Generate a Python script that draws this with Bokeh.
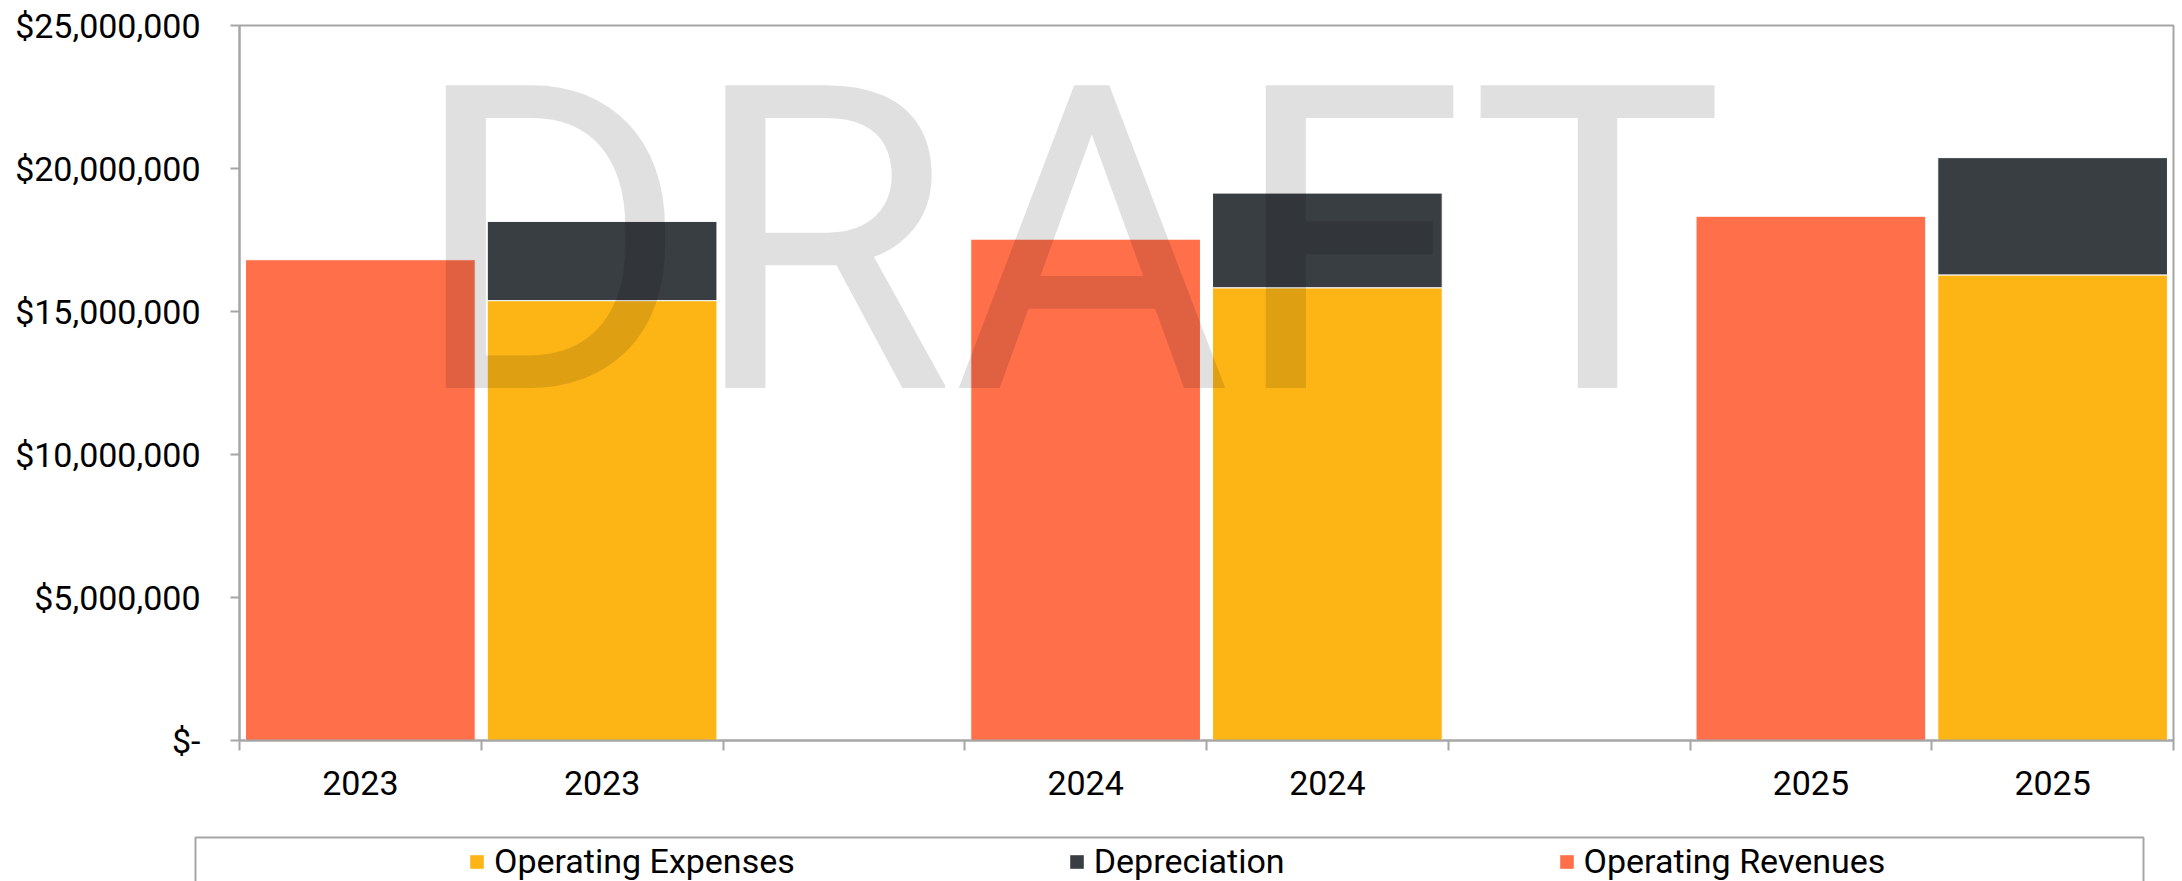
from bokeh.plotting import figure
from bokeh.models import Range1d, FixedTicker, Legend, LegendItem, Label, BoxAnnotation
from bokeh.layouts import column
from bokeh.embed import file_html
from bokeh.resources import INLINE

# ---------------- data ----------------
years = ["2023", "2024", "2025"]
operating_revenues = [16810000, 17530000, 18330000]
operating_expenses = [15380000, 15830000, 16280000]
depreciation = [2770000, 3310000, 4100000]
y_tick_values = [0, 5000000, 10000000, 15000000, 20000000, 25000000]
y_tick_labels = ["$-", "$5,000,000", "$10,000,000", "$15,000,000", "$20,000,000", "$25,000,000"]
series_names = ["Operating Expenses", "Depreciation", "Operating Revenues"]

# ---------------- layout of category slots ----------------
SLOTS = 3  # revenue bar, expense bar, blank gap
n_slots = len(years) * SLOTS - 1
rev_x = [i * SLOTS + 0.5 for i in range(len(years))]
exp_x = [i * SLOTS + 1.5 for i in range(len(years))]
dep_bottom = operating_expenses
dep_top = [e + d for e, d in zip(operating_expenses, depreciation)]

C_REV = "#FF6F4A"
C_EXP = "#FDB515"
C_DEP = "#393E42"
GRAY = "#A6A6A6"
FONT = "Roboto"

p = figure(width=2182, height=835, output_backend="svg", toolbar_location=None,
           x_range=Range1d(0, n_slots), y_range=Range1d(0, 25000000),
           min_border_left=239, min_border_right=9, min_border_top=25, min_border_bottom=95)
p.frame_align = False
p.background_fill_color = "white"
p.border_fill_color = "white"
p.outline_line_color = GRAY
p.outline_line_width = 2
p.xgrid.grid_line_color = None
p.ygrid.grid_line_color = None

BW = 0.95
r_rev = p.vbar(x=rev_x, top=operating_revenues, bottom=0, width=BW,
               fill_color=C_REV, line_color="white", line_width=1)
r_exp = p.vbar(x=exp_x, top=operating_expenses, bottom=0, width=BW,
               fill_color=C_EXP, line_color="white", line_width=1)
r_dep = p.vbar(x=exp_x, top=dep_top, bottom=dep_bottom, width=BW,
               fill_color=C_DEP, line_color="white", line_width=1)

# x axis: labels at bar centres, tick marks between categories
xa = p.xaxis[0]
label_pos = sorted(rev_x + exp_x)
xa.ticker = FixedTicker(ticks=label_pos, minor_ticks=list(range(0, n_slots + 1)))
overrides = {}
for i, y in enumerate(years):
    overrides[rev_x[i]] = y
    overrides[exp_x[i]] = y
xa.major_label_overrides = overrides
xa.major_tick_line_color = None
xa.minor_tick_line_color = GRAY
xa.minor_tick_line_width = 2
xa.minor_tick_out = 10
xa.minor_tick_in = 0
xa.axis_line_color = GRAY
xa.axis_line_width = 2
xa.major_label_text_font = FONT
xa.major_label_text_font_size = "34px"
xa.major_label_text_color = "black"
xa.major_label_standoff = 20

ya = p.yaxis[0]
ya.ticker = FixedTicker(ticks=y_tick_values, minor_ticks=[])
ya.major_label_overrides = dict(zip(y_tick_values, y_tick_labels))
ya.axis_line_color = GRAY
ya.axis_line_width = 2
ya.major_tick_line_color = GRAY
ya.major_tick_line_width = 2
ya.major_tick_out = 9
ya.major_tick_in = 0
ya.minor_tick_line_color = None
ya.major_label_text_font = FONT
ya.major_label_text_font_size = "34px"
ya.major_label_text_color = "black"
ya.major_label_standoff = 30

# watermark
wm = Label(x=3.425, y=17410000, text="DRAFT", text_font=FONT, text_font_size="426px",
           text_color="black", text_alpha=0.12, text_align="center", text_baseline="alphabetic")
p.add_layout(wm)

# ---------------- legend strip ----------------
LH = 46
p2 = figure(width=2182, height=LH, output_backend="svg", toolbar_location=None,
            x_range=Range1d(0, 2182), y_range=Range1d(LH, 0),
            x_axis_type=None, y_axis_type=None,
            min_border_left=0, min_border_right=0, min_border_top=0, min_border_bottom=0)
p2.frame_align = False
p2.outline_line_color = None
p2.xgrid.grid_line_color = None
p2.ygrid.grid_line_color = None
p2.background_fill_color = "white"
p2.border_fill_color = "white"

box = BoxAnnotation(left=195, right=2143, top=2, bottom=200,
                    fill_alpha=0, line_color=GRAY, line_alpha=1.0, line_width=2)
p2.add_layout(box)

# zero-size proxy glyphs that only feed the legend swatches
lg_exp = p2.vbar(x=[0], top=[0], bottom=0, width=0, fill_color=C_EXP, line_color=None)
lg_dep = p2.vbar(x=[0], top=[0], bottom=0, width=0, fill_color=C_DEP, line_color=None)
lg_rev = p2.vbar(x=[0], top=[0], bottom=0, width=0, fill_color=C_REV, line_color=None)

legend = Legend(items=[LegendItem(label=series_names[0], renderers=[lg_exp]),
                       LegendItem(label=series_names[1], renderers=[lg_dep]),
                       LegendItem(label=series_names[2], renderers=[lg_rev])],
                orientation="horizontal", location=(468, 0), padding=0, margin=0,
                spacing=273, glyph_width=17, glyph_height=17, label_standoff=9,
                label_text_font=FONT, label_text_font_size="34px", label_text_color="black",
                border_line_color=None, background_fill_alpha=0)
p2.add_layout(legend)

open("out.html", "w").write(file_html(column(p, p2, spacing=0), INLINE))
